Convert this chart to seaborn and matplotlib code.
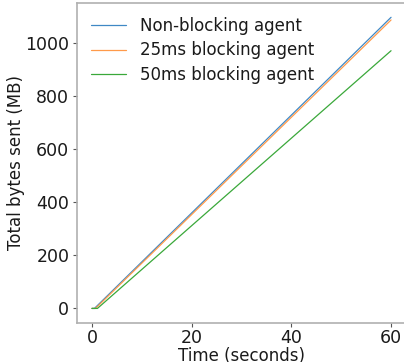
import pandas as pd
import matplotlib
matplotlib.use("Agg")
import matplotlib.pyplot as plt
import seaborn as sns

# Values (seconds, MB)
labels = ["Non-blocking agent", "25ms blocking agent", "50ms blocking agent"]
nonblock_t = [0, 0.5, 20, 40, 60]
nonblock_mb = [0, 0, 360, 729, 1098]
block25_t = [0, 0.7, 20, 40, 60]
block25_mb = [0, 0, 354, 721, 1088]
block50_t = [0, 1.1, 20, 40, 60]
block50_mb = [0, 0, 312, 642, 972]

frames = []
for name, t, mb in zip(labels,
                       [nonblock_t, block25_t, block50_t],
                       [nonblock_mb, block25_mb, block50_mb]):
    frames.append(pd.DataFrame({"time": t, "mb": mb, "agent": name}))
df = pd.concat(frames, ignore_index=True)

sns.set_style("white")
plt.rcParams.update({
    'font.family': ['DejaVu Sans'],
    'font.size': 12,
    'axes.labelsize': 12,
    'xtick.labelsize': 12.5,
    'ytick.labelsize': 12.5,
    'legend.fontsize': 12,
    'text.color': '#1a1a1a',
    'axes.labelcolor': '#1a1a1a',
})

fig = plt.figure(figsize=(4.04, 3.62), dpi=100)
ax = fig.add_axes([77 / 404, 39 / 362, 329 / 404, 320 / 362])

sns.lineplot(data=df, x="time", y="mb", hue="agent", hue_order=labels,
             palette=["#3f88c5", "#ff9a4a", "#3aa83a"], linewidth=0.9, ax=ax)

ax.set_xlabel("Time (seconds)", labelpad=0)
ax.set_ylabel("Total bytes sent (MB)", labelpad=0)
ax.set_xticks([0, 20, 40, 60])
ax.set_yticks([0, 200, 400, 600, 800, 1000])
ax.set_xlim(-3, 63)
ax.set_ylim(-55, 1152)

for s in ax.spines.values():
    s.set_color("#b0b0b0")
    s.set_linewidth(1.2)
ax.tick_params(axis="both", which="major", length=3, width=0.8,
               color="#555555", labelcolor="#1a1a1a", left=True, bottom=True)
ax.tick_params(axis="x", pad=1.5)
ax.tick_params(axis="y", pad=2.5)

leg = ax.legend(frameon=False, loc="upper left", borderaxespad=0.45,
                handlelength=2.1, labelspacing=0.38)

fig.savefig("out.png", dpi=100)
